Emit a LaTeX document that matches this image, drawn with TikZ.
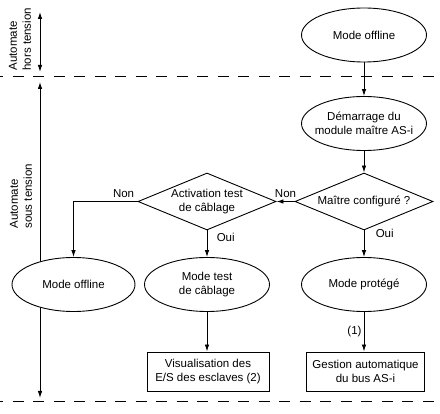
\documentclass[tikz,border=0pt]{standalone}
\usepackage{fontspec}
\setmainfont{Liberation Sans}
\usetikzlibrary{shapes.geometric,arrows.meta}

\begin{document}
\begin{tikzpicture}[x=1pt, y=-1pt, line width=0.9pt,
		font=\fontsize{11.5}{14}\selectfont,
		>={Latex[length=7pt,width=4.5pt]},
		etat/.style={ellipse, draw, fill=white, inner sep=-10pt, minimum width=125pt, minimum height=54pt, align=center},
		choix/.style={diamond, draw, fill=white, inner sep=0pt, aspect=2.4, minimum width=138pt, minimum height=57pt, align=center},
		action/.style={rectangle, draw, fill=white, minimum width=118pt, minimum height=39pt, align=center},
		limite/.style={dash pattern=on 11pt off 9.5pt, dash phase=8pt},
		zone/.style={rotate=90, anchor=west, align=left, inner sep=0pt}]
		\useasboundingbox (0,0) rectangle (440,414);

		% zones d'alimentation
		\coordinate (h1) at (40,12);
		\coordinate (h2) at (40,72);
		\coordinate (s1) at (40,82);
		\coordinate (s2) at (40,398);
		\draw[<->] (h1) to (h2);
		\draw[<->] (s1) to (s2);
		\draw[limite] (0,76.5) to (440,76.5);
		\draw[limite] (0,401.5) to (440,401.5);
		\node[zone] (hors) at (20,71) {Automate\\hors tension};
		\node[zone] (sous) at (21,229) {Automate\\sous tension};

		% etats
		\node[etat] (off1) at (364,35) {Mode offline};
		\node[etat] (demarrage) at (364,123.5) {Démarrage du\\module maître AS-i};
		\node[choix] (config) at (364,201.5) {Maître configuré ?};
		\node[choix] (activ) at (207,201.5) {Activation test\\de câblage};
		\node[etat] (prot) at (364,284.5) {Mode protégé};
		\node[etat] (cablage) at (207,284.5) {Mode test\\de câblage};
		\node[etat, minimum width=123pt] (off2) at (73.5,284.5) {Mode offline};
		\node[action] (gestion) at (365.5,371.5) {Gestion automatique\\du bus AS-i};
		\node[action, minimum width=122pt] (visu) at (208,371.5) {Visualisation des\\E/S des esclaves (2)};

		% transitions
		\draw[->] (off1) to (demarrage);
		\draw[->] (demarrage) to (config);
		\draw[->] (config) to node[above, inner sep=3pt]{Non} (activ);
		\draw[->] (config) to node[pos=0.1, right=8pt]{Oui} (prot);
		\draw[->] (prot) to node[left, inner sep=2pt]{(1)} (prot |- gestion.north);
		\draw[->] (activ) -| node[pos=0, above left, inner sep=3pt]{Non} (off2);
		\draw[->] (activ) to node[pos=0.25, right=6pt]{Oui} (cablage);
		\draw[->] (cablage) to (cablage |- visu.north);
	\end{tikzpicture}
\end{document}
